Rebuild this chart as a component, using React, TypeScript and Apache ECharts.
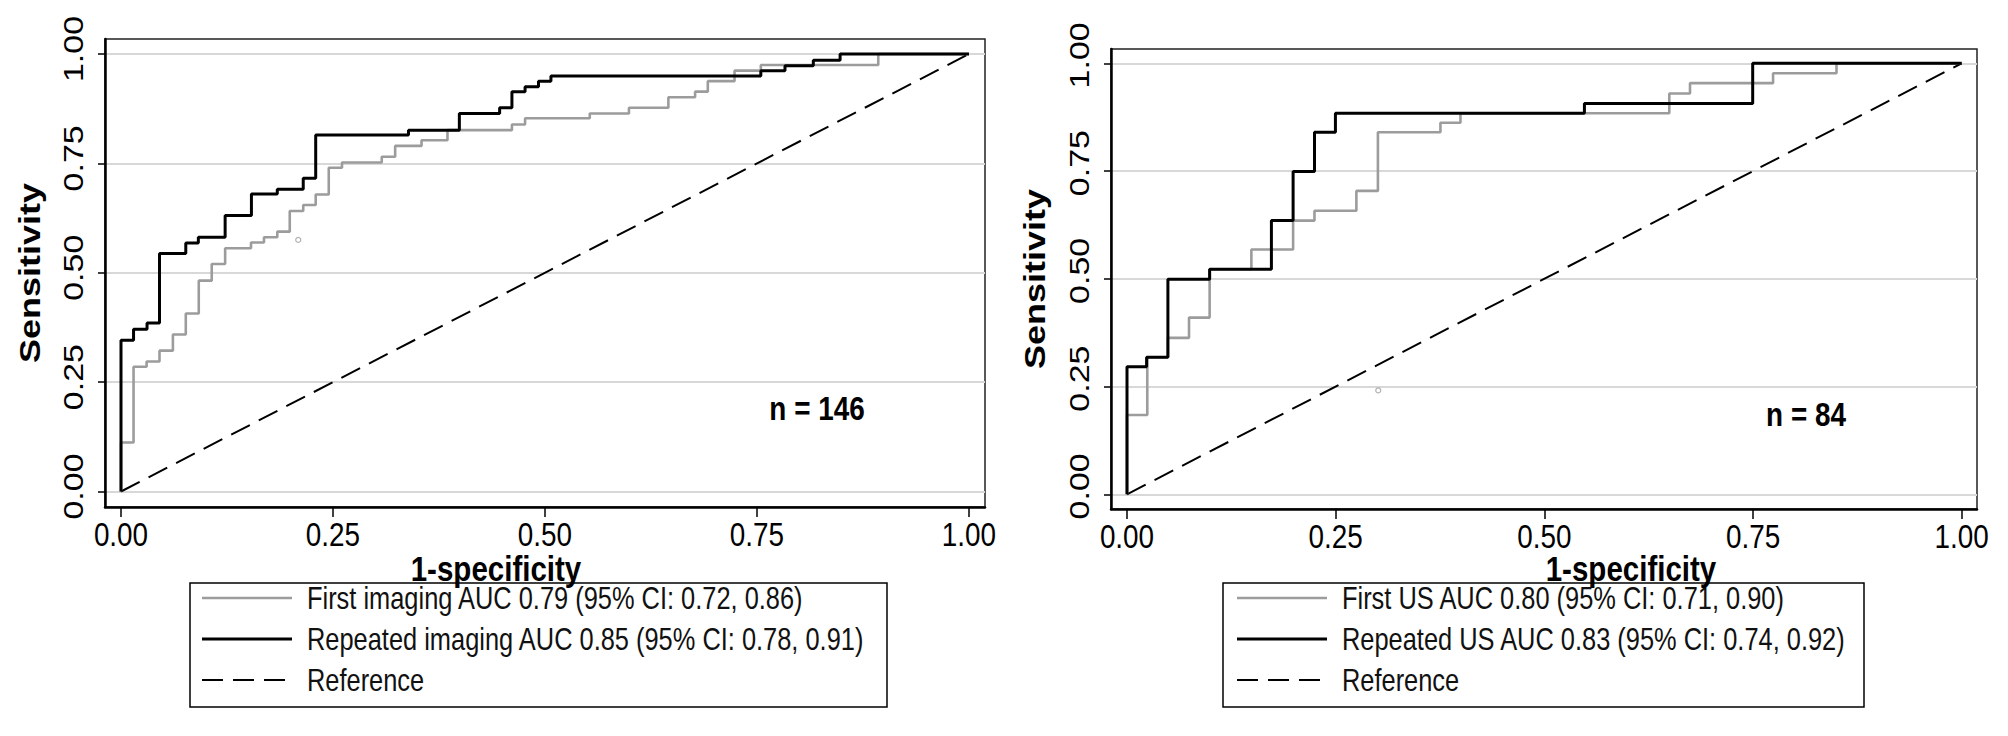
import React, { useEffect, useRef } from "react";
import * as echarts from "echarts";

// ---------- data ----------
const axisTicks = [0, 0.25, 0.5, 0.75, 1];

const leftFirst: number[][] = [
  [0, 0], [0, 0.112], [0.0148, 0.285], [0.0302, 0.297], [0.0454, 0.322], [0.0612, 0.359],
  [0.0764, 0.407], [0.0917, 0.482], [0.107, 0.52], [0.1228, 0.556], [0.1533, 0.569],
  [0.1686, 0.581], [0.1843, 0.594], [0.199, 0.641], [0.2149, 0.655], [0.2296, 0.679],
  [0.245, 0.74], [0.2606, 0.752], [0.3075, 0.765], [0.3233, 0.79], [0.3544, 0.803],
  [0.385, 0.826], [0.461, 0.839], [0.4765, 0.853], [0.5528, 0.864], [0.599, 0.877],
  [0.6455, 0.901], [0.677, 0.914], [0.692, 0.938], [0.7235, 0.962], [0.7545, 0.975],
  [0.893, 1.0], [1, 1],
];
const leftRepeated: number[][] = [
  [0, 0], [0, 0.346], [0.0148, 0.371], [0.0307, 0.385], [0.0454, 0.544], [0.0764, 0.568],
  [0.0912, 0.581], [0.1228, 0.631], [0.1538, 0.68], [0.1843, 0.691], [0.2149, 0.716],
  [0.2296, 0.815], [0.339, 0.826], [0.399, 0.864], [0.4465, 0.877], [0.461, 0.914],
  [0.4765, 0.925], [0.4923, 0.938], [0.507, 0.95], [0.7545, 0.962], [0.783, 0.973],
  [0.8164, 0.986], [0.848, 1.0], [1, 1],
];
const rightFirst: number[][] = [
  [0, 0], [0, 0.184], [0.0243, 0.318], [0.049, 0.363], [0.0743, 0.41], [0.099, 0.522],
  [0.149, 0.568], [0.199, 0.635], [0.2246, 0.658], [0.2748, 0.704], [0.3006, 0.84],
  [0.3755, 0.862], [0.3995, 0.884], [0.6497, 0.93], [0.6745, 0.954], [0.774, 0.977],
  [0.85, 1.0], [1, 1],
];
const rightRepeated: number[][] = [
  [0, 0], [0, 0.296], [0.0235, 0.318], [0.049, 0.499], [0.099, 0.522], [0.173, 0.635],
  [0.199, 0.749], [0.2246, 0.84], [0.2497, 0.884], [0.548, 0.907], [0.7496, 1.0], [1, 1],
];
const referenceLine: number[][] = [[0, 0], [1, 1]];
const leftCutPoint: number[][] = [[0.209, 0.575]];
const rightCutPoint: number[][] = [[0.301, 0.241]];

const leftLegend = [
  "First imaging AUC 0.79 (95% CI: 0.72, 0.86)",
  "Repeated imaging AUC 0.85 (95% CI: 0.78, 0.91)",
  "Reference",
];
const rightLegend = [
  "First US AUC 0.80 (95% CI: 0.71, 0.90)",
  "Repeated US AUC 0.83 (95% CI: 0.74, 0.92)",
  "Reference",
];
const sampleSizes = ["n = 146", "n = 84"];
const xTitle = "1-specificity";
const yTitle = "Sensitivity";

// ---------- styles ----------
const FONT = "'Liberation Sans', Arial, sans-serif";
const NARROW = 0.82;
const GRAY = "#9c9c9c";
const DASH = [21, 10];

const panels = [
  {
    grid: { left: 105, top: 39, width: 880, height: 468 },
    xr: [-0.01887, 1.01887], yr: [-0.03543, 1.03429], yLabelShift: -5,
    first: leftFirst, repeated: leftRepeated, cut: leftCutPoint, legend: leftLegend,
    box: { x: 190, y: 583, w: 697, h: 124 }, lineX: 202, textX: 307,
    n: { x: 817, y: 409 }, xt: { x: 496, y: 568 }, yt: { x: 30, y: 273 },
  },
  {
    grid: { left: 1111, top: 49, width: 866, height: 460 },
    xr: [-0.01917, 1.01833], yr: [-0.0341, 1.0332], yLabelShift: -8,
    first: rightFirst, repeated: rightRepeated, cut: rightCutPoint, legend: rightLegend,
    box: { x: 1223, y: 583, w: 641, h: 124 }, lineX: 1237, textX: 1342,
    n: { x: 1806, y: 415 }, xt: { x: 1631, y: 568 }, yt: { x: 1035, y: 279 },
  },
];

const fmt = (v: number) => v.toFixed(2);

function narrowText(x: number, y: number, text: string, size: number, opts: any = {}) {
  return {
    type: "text", x, y, scaleX: opts.rotation ? 1 : NARROW, scaleY: opts.rotation ? NARROW : 1,
    rotation: opts.rotation || 0,
    style: {
      text, fontSize: size, fontFamily: FONT, fontWeight: opts.bold ? "bold" : "normal",
      fill: opts.fill || "#000", textAlign: opts.align || "center", textVerticalAlign: "middle",
    },
  };
}

export default function App() {
  const ref = useRef<HTMLDivElement>(null);
  useEffect(() => {
    if (!ref.current) return;
    const chart = echarts.init(ref.current, undefined, { renderer: "svg" });

    const grids: any[] = [];
    const xAxes: any[] = [];
    const yAxes: any[] = [];
    const series: any[] = [];

    panels.forEach((p, i) => {
      grids.push({
        ...p.grid, show: true, borderColor: "#222", borderWidth: 1.5,
        backgroundColor: "transparent", containLabel: false,
      });
      xAxes.push({
        gridIndex: i, type: "value", position: "bottom", min: p.xr[0], max: p.xr[1],
        axisLine: { show: true, onZero: false, lineStyle: { color: "#000", width: 2.5 } },
        axisTick: { show: true, customValues: axisTicks, length: 10, lineStyle: { color: "#000", width: 1.5 } },
        axisLabel: { show: false },
        splitLine: { show: false },
      });
      yAxes.push({
        gridIndex: i, type: "value", position: "left", min: p.yr[0], max: p.yr[1],
        axisLine: { show: true, onZero: false, lineStyle: { color: "#000", width: 2.5 } },
        axisTick: { show: true, customValues: axisTicks, length: 7, lineStyle: { color: "#000", width: 1.5 } },
        axisLabel: { show: false },
        splitLine: { show: false },
      });
      series.push({
        name: "Reference", type: "line", xAxisIndex: i, yAxisIndex: i, data: referenceLine,
        symbol: "none", z: 1,
        lineStyle: { color: "#000", width: 2, type: DASH },
        markLine: {
          silent: true, symbol: "none", label: { show: false }, z: 0,
          lineStyle: { color: "#d8d8d8", width: 2, type: "solid" },
          data: axisTicks.map((v) => ({ yAxis: v })),
        },
      });
      series.push({
        name: p.legend[0], type: "line", step: "end", xAxisIndex: i, yAxisIndex: i, data: p.first,
        symbol: "none", z: 3, lineStyle: { color: GRAY, width: 2.6 },
      });
      series.push({
        name: p.legend[1], type: "line", step: "end", xAxisIndex: i, yAxisIndex: i, data: p.repeated,
        symbol: "none", z: 4, lineStyle: { color: "#000", width: 3 },
      });
      series.push({
        type: "scatter", xAxisIndex: i, yAxisIndex: i, data: p.cut, symbol: "circle", symbolSize: 5, z: 3,
        itemStyle: { color: "#fff", borderColor: GRAY, borderWidth: 1.2 },
      });
    });

    chart.setOption({
      animation: false,
      backgroundColor: "#fff",
      grid: grids,
      xAxis: xAxes,
      yAxis: yAxes,
      series,
    });

    // texts and legends, positioned from the axes' own scales
    const graphics: any[] = [];
    const legendStyles = [
      { stroke: GRAY, lineWidth: 2.6, lineDash: null },
      { stroke: "#000", lineWidth: 3, lineDash: null },
      { stroke: "#000", lineWidth: 2, lineDash: DASH },
    ];
    panels.forEach((p, i) => {
      const finder = { xAxisIndex: i, yAxisIndex: i };
      axisTicks.forEach((v) => {
        const px = chart.convertToPixel(finder, [v, p.yr[0]]) as number[];
        graphics.push(narrowText(px[0], px[1] + 28, fmt(v), 34));
        const py = chart.convertToPixel(finder, [p.xr[0], v]) as number[];
        graphics.push(narrowText(py[0] - 31, py[1] + p.yLabelShift, fmt(v), 34, { rotation: Math.PI / 2 }));
      });
      graphics.push({
        type: "rect", shape: { x: p.box.x, y: p.box.y, width: p.box.w, height: p.box.h },
        style: { fill: "#fff", stroke: "#000", lineWidth: 1.5 },
      });
      p.legend.forEach((label, k) => {
        const cy = p.box.y + 15 + k * 41;
        const st = legendStyles[k];
        graphics.push({
          type: "line", shape: { x1: p.lineX, y1: cy, x2: p.lineX + 90, y2: cy },
          style: { stroke: st.stroke, lineWidth: st.lineWidth, lineDash: st.lineDash || undefined },
        });
        graphics.push(narrowText(p.textX, cy, label, 31, { align: "left", fill: "#111" }));
      });
      graphics.push(narrowText(p.n.x, p.n.y, sampleSizes[i], 34, { bold: true }));
      graphics.push(narrowText(p.xt.x, p.xt.y, xTitle, 36, { bold: true }));
      graphics.push(narrowText(p.yt.x, p.yt.y, yTitle, 36, { bold: true, rotation: Math.PI / 2 }));
    });
    chart.setOption({ graphic: graphics });

    return () => chart.dispose();
  }, []);
  return <div ref={ref} style={{ position: "fixed", left: 0, top: 0, width: 2008, height: 736 }} />;
}
